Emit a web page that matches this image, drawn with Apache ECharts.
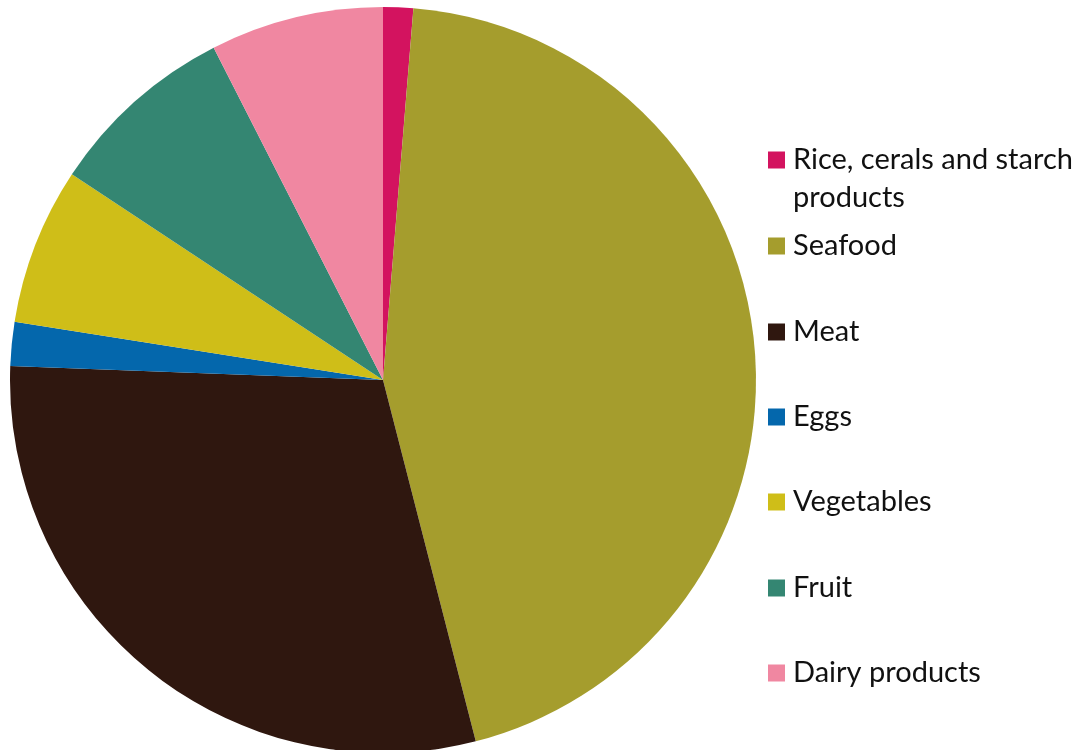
<!DOCTYPE html>
<html>
<head>
<meta charset="utf-8">
<script src="https://cdn.jsdelivr.net/npm/echarts@6/dist/echarts.min.js"></script>
<style>
  html, body { margin: 0; padding: 0; background: #fff; }
  #chart { width: 1084px; height: 750px; }
</style>
</head>
<body>
<div id="chart"></div>
<script>
// food groups, share in percent
const categories = ['Rice, cerals and starch products', 'Seafood', 'Meat', 'Eggs', 'Vegetables', 'Fruit', 'Dairy products'];
const shares = [1.3, 44.7, 29.6, 1.9, 6.8, 8.2, 7.5];
const colors = ['#D3135F', '#A59D2D', '#2F170F', '#0467AC', '#CFBE18', '#348672', '#F087A1'];

// legend row centres (y of each square)
const legendY = [160, 244, 330, 415, 500, 586, 671];
const lineH = 38;

const chart = echarts.init(document.getElementById('chart'));

const legends = categories.map((name, i) => {
  const multi = i === 0;
  return {
    data: [name],
    orient: 'vertical',
    left: 768,
    // rice label gets an empty first line so the square sits beside line one
    top: multi ? legendY[i] - lineH * 1.5 : legendY[i] - lineH / 2 + 2,
    padding: 0,
    icon: 'rect',
    itemWidth: 17,
    itemHeight: 17,
    selectedMode: false,
    formatter: (n) => (n === categories[0] ? ' \nRice, cerals and starch\nproducts' : n),
    textStyle: {
      fontFamily: 'Lato',
      fontSize: 29,
      color: '#111',
      lineHeight: lineH,
      padding: [0, 0, 0, 3]
    }
  };
});

chart.setOption({
  animation: false,
  color: colors,
  legend: legends,
  series: [{
    type: 'pie',
    center: [383, 380],
    radius: 373,
    startAngle: 90,
    clockwise: true,
    label: { show: false },
    labelLine: { show: false },
    itemStyle: { borderWidth: 0 },
    emphasis: { disabled: true },
    data: categories.map((name, i) => ({ name, value: shares[i] }))
  }]
});
</script>
</body>
</html>
